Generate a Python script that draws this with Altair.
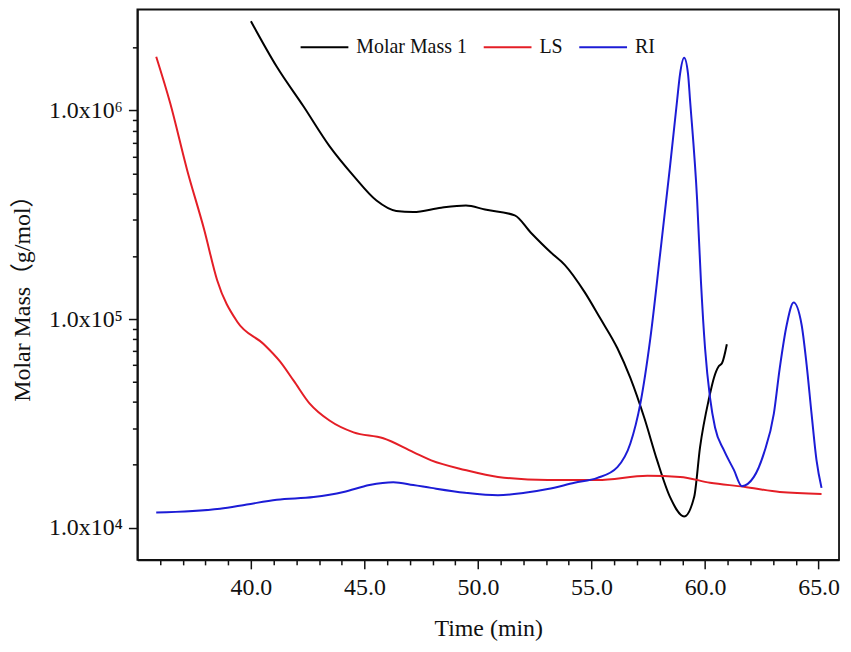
import altair as alt
import pandas as pd

# ---- data ----
mm_time = [40.00, 41.14, 42.32, 43.46, 44.52, 45.53, 46.40, 47.15, 48.38, 49.47,
           50.31, 51.62, 52.32, 53.20, 53.82, 54.69, 55.39, 56.14, 56.71, 57.32, 57.89,
           58.46, 59.08, 59.52, 59.78, 60.18, 60.39, 60.61, 60.75, 60.96]
mm_val = [2.68e6, 1.62e6, 1.045e6, 6.75e5, 4.86e5, 3.70e5, 3.30e5, 3.26e5, 3.42e5, 3.50e5,
          3.35e5, 3.14e5, 2.60e5, 2.09e5, 1.82e5, 1.35e5, 1.005e5, 7.24e4, 5.22e4, 3.37e4, 2.10e4,
          1.40e4, 1.13e4, 1.40e4, 2.43e4, 4.19e4, 5.22e4, 5.95e4, 6.15e4, 7.57e4]

ls_time = [35.83, 36.45, 37.19, 37.94, 38.51, 39.39, 40.57, 41.27, 41.89, 42.59, 43.46, 44.52,
           45.83, 47.15, 47.94, 49.43, 50.88, 53.07, 55.26, 57.46, 58.90, 60.22, 61.71, 63.29, 65.13]
ls_val = [1.81e6, 1.08e6, 5.19e5, 2.69e5, 1.54e5, 9.73e4, 7.57e4, 6.28e4, 5.05e4, 3.93e4, 3.26e4, 2.86e4,
          2.68e4, 2.30e4, 2.10e4, 1.89e4, 1.75e4, 1.69e4, 1.69e4, 1.77e4, 1.75e4, 1.64e4, 1.57e4, 1.48e4, 1.45e4]

ri_time = [35.83, 38.64, 39.82, 41.14, 42.76, 44.08, 45.22, 46.27, 47.15, 47.94, 49.43, 50.88,
           52.06, 53.07, 54.25, 55.26, 56.14, 56.71, 57.15, 57.59, 58.03, 58.46, 58.77, 58.90,
           59.08, 59.25, 59.34, 59.65, 59.82, 60.00, 60.22, 60.44, 60.83, 61.27, 61.62, 62.15,
           62.59, 63.03, 63.29, 63.60, 63.90, 64.25, 64.47, 64.69, 64.91, 65.13]
ri_val = [1.18e4, 1.23e4, 1.29e4, 1.36e4, 1.40e4, 1.48e4, 1.60e4, 1.65e4, 1.60e4, 1.55e4, 1.47e4, 1.43e4,
          1.47e4, 1.53e4, 1.64e4, 1.73e4, 1.95e4, 2.53e4, 3.93e4, 8.08e4, 2.09e5, 5.42e5, 1.12e6, 1.50e6,
          1.79e6, 1.50e6, 1.12e6, 3.74e5, 1.51e5, 7.24e4, 4.19e4, 3.02e4, 2.35e4, 1.89e4, 1.58e4, 1.75e4,
          2.27e4, 3.52e4, 5.82e4, 9.42e4, 1.20e5, 9.42e4, 6.08e4, 3.52e4, 2.10e4, 1.55e4]

series_names = ["Molar Mass 1", "LS", "RI"]
series_colors = ["#000000", "#e41e26", "#1c1cd6"]

x_ticks = list(range(36, 66))
y_ticks = [k * 1e4 for k in range(1, 10)] + [k * 1e5 for k in range(1, 10)] + [1e6, 2e6]

frames = []
for name, t, v in [(series_names[0], mm_time, mm_val),
                   (series_names[1], ls_time, ls_val),
                   (series_names[2], ri_time, ri_val)]:
    frames.append(pd.DataFrame({"time": t, "mass": v, "series": name}))
df = pd.concat(frames, ignore_index=True)

FONT = "Liberation Serif"
INK = "#111111"

chart = alt.Chart(df).mark_line(strokeWidth=2, interpolate="monotone").encode(
    x=alt.X("time:Q",
            scale=alt.Scale(domain=[35, 65.9], nice=False, zero=False),
            axis=alt.Axis(values=x_ticks,
                          labelExpr="datum.value % 5 === 0 ? format(datum.value, '.1f') : ''",
                          tickSize={"condition": {"test": "datum.value % 5 === 0", "value": 9}, "value": 5},
                          labelPadding=7, labelOverlap=False, labelFlush=False,
                          title="Time (min)", titleBaseline="alphabetic", titleY=76,
                          grid=False)),
    y=alt.Y("mass:Q",
            scale=alt.Scale(type="log", domain=[7e3, 3.05e6], nice=False),
            axis=alt.Axis(values=y_ticks,
                          labelExpr="datum.value == 10000 ? '1.0x10⁴' : datum.value == 100000 ? '1.0x10⁵' : datum.value == 1000000 ? '1.0x10⁶' : ''",
                          tickSize={"condition": {"test": "datum.value == 10000 || datum.value == 100000 || datum.value == 1000000", "value": 9}, "value": 5},
                          labelPadding=6, labelOverlap=False,
                          title="Molar Mass（g/mol）", titleBaseline="alphabetic",
                          titleFont="Liberation Serif, Noto Sans CJK SC",
                          titleX=-108, titleY=284, titleAngle=-90, titleFontSize=24,
                          grid=False)),
    color=alt.Color("series:N",
                    scale=alt.Scale(domain=series_names, range=series_colors),
                    legend=alt.Legend(orient="none", legendX=163, legendY=13,
                                      direction="horizontal", title=None,
                                      symbolType="stroke", symbolSize=2304,
                                      symbolStrokeWidth=2, labelOffset=7,
                                      columnPadding=12, labelFontSize=20,
                                      labelFont=FONT, labelColor=INK)),
).properties(
    width=705, height=553,
    background="white",
    autosize=alt.AutoSizeParams(type="none"),
    padding={"left": 130, "top": 0, "right": 4, "bottom": 82},
).configure_view(
    stroke=INK, strokeWidth=1.8
).configure_axis(
    labelFont=FONT, titleFont=FONT, labelFontSize=24, titleFontSize=24,
    labelColor=INK, titleColor=INK, titleFontWeight="normal",
    domainColor=INK, domainWidth=1.8, tickColor=INK, tickWidth=1.5,
)

chart.save("out.html", embed_options={"renderer": "svg", "actions": False})
